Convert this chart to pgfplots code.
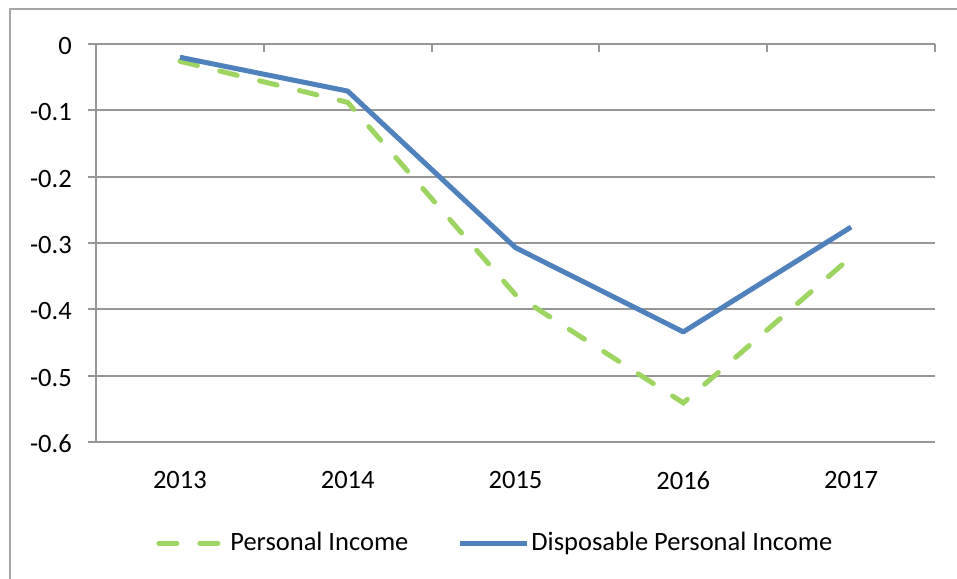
\documentclass[border=0pt]{standalone}
\usepackage{fontspec}
\setmainfont{Carlito}
\usepackage{pgfplots}
\pgfplotsset{compat=1.18}
\definecolor{gridgray}{RGB}{150,150,150}
\definecolor{framegray}{RGB}{166,166,166}
\definecolor{pigreen}{RGB}{158,213,98}
\definecolor{dpiblue}{RGB}{79,129,189}
\begin{document}
\fontsize{26.5bp}{31bp}\selectfont
\begin{tikzpicture}
\draw[framegray, line width=2bp] (10bp,-10bp) -- (10bp,570bp) -- (980bp,570bp);
\begin{axis}[
  at={(96bp,137bp)}, anchor=south west,
  scale only axis, width=839bp, height=398bp,
  xmin=-0.5, xmax=4.5, ymin=-0.6, ymax=0,
  axis line style={draw=none},
  xtick={0,1,2,3,4},
  xticklabels={2013,2014,2015,2016,2017},
  x tick style={draw=none},
  xticklabel style={anchor=north, inner sep=0pt, yshift=-21bp},
  ytick={-0.6,-0.5,-0.4,-0.3,-0.2,-0.1,0},
  yticklabels={-0.6,-0.5,-0.4,-0.3,-0.2,-0.1,0},
  ytick pos=left,
  tick align=outside,
  major tick length=8bp,
  y tick style={gridgray, line width=2bp},
  yticklabel style={anchor=east, inner sep=0pt, xshift=-16bp, yshift=-2bp},
  ymajorgrids,
  major grid style={gridgray, line width=2bp},
  clip=false,
  legend columns=2,
  legend style={at={(0.476,-0.254)}, anchor=center, draw=none, fill=none,
    font=\fontsize{26.5bp}{31bp}\selectfont,
    /tikz/every odd column/.append style={column sep=0bp},
    /tikz/every even column/.append style={column sep=47bp}},
  legend image code/.code={\draw[#1] (0bp,0bp) -- (67bp,0bp);},
  after end axis/.code={
    \draw[gridgray, line width=2bp] (rel axis cs:0,0) -- (rel axis cs:0,1);
    \foreach \xx in {0.5,1.5,2.5,3.5,4.5} {
      \draw[gridgray, line width=2bp] (axis cs:\xx,0) -- ++(0,-8bp);
    }
  },
]
\addplot[pigreen, line width=5bp, line cap=round, dash pattern=on 18bp off 23bp]
  coordinates {(0,-0.026) (1,-0.088) (2,-0.378) (3,-0.541) (4,-0.321)};
\addlegendentry{Personal Income}
\addplot[dpiblue, line width=5bp, line join=round]
  coordinates {(0,-0.020) (1,-0.071) (2,-0.307) (3,-0.434) (4,-0.276)};
\addlegendentry{Disposable Personal Income}
\end{axis}
\pgfresetboundingbox
\useasboundingbox (0,0) rectangle (957bp,579bp);
\end{tikzpicture}
\end{document}
